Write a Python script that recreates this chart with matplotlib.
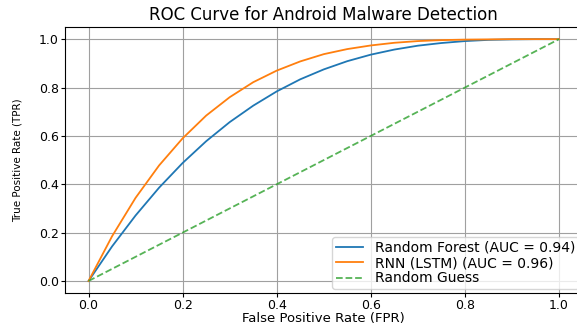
# ROC curves for android malware detection models

import matplotlib.pyplot as plt

fpr = [0.0, 0.05, 0.1, 0.15, 0.2, 0.25, 0.3, 0.35, 0.4, 0.45, 0.5,
       0.55, 0.6, 0.65, 0.7, 0.75, 0.8, 0.85, 0.9, 0.95, 1.0]
tpr_rf = [0.0, 0.143, 0.271, 0.386, 0.488, 0.578, 0.657, 0.725, 0.784, 0.834, 0.875,
          0.909, 0.936, 0.957, 0.973, 0.984, 0.992, 0.997, 0.999, 1.0, 1.0]
tpr_rnn = [0.0, 0.185, 0.344, 0.478, 0.590, 0.684, 0.760, 0.822, 0.870, 0.908, 0.938,
           0.959, 0.974, 0.985, 0.992, 0.996, 0.998, 0.999, 1.0, 1.0, 1.0]
guess = [0.0, 1.0]

auc_rf = 0.94
auc_rnn = 0.96

fig = plt.figure(figsize=(5.77, 3.26), dpi=100)
ax = fig.add_axes([0.1127, 0.101, 0.897, 0.816])

ax.plot(fpr, tpr_rf, color='tab:blue', linewidth=1.3, label=f'Random Forest (AUC = {auc_rf:.2f})')
ax.plot(fpr, tpr_rnn, color='tab:orange', linewidth=1.3, label=f'RNN (LSTM) (AUC = {auc_rnn:.2f})')
ax.plot(guess, guess, linestyle='--', color='tab:green', alpha=0.8, linewidth=1.3, label='Random Guess')

ax.set_xlim(-0.05, 1.05)
ax.set_ylim(-0.05, 1.05)
ax.set_title('ROC Curve for Android Malware Detection', fontsize=12, pad=5)
ax.set_xlabel('False Positive Rate (FPR)', fontsize=9.5, labelpad=0)
ax.set_ylabel('True Positive Rate (TPR)', fontsize=7.5, labelpad=12)
ax.tick_params(labelsize=9, length=3, pad=1.5)
ax.grid(True, color='#a0a0a0', linewidth=0.8)
ax.legend(loc='lower right', fontsize=10, labelspacing=0.1, borderpad=0.25,
          handlelength=2.0, borderaxespad=0.3)

plt.savefig('out.png', dpi=100)
